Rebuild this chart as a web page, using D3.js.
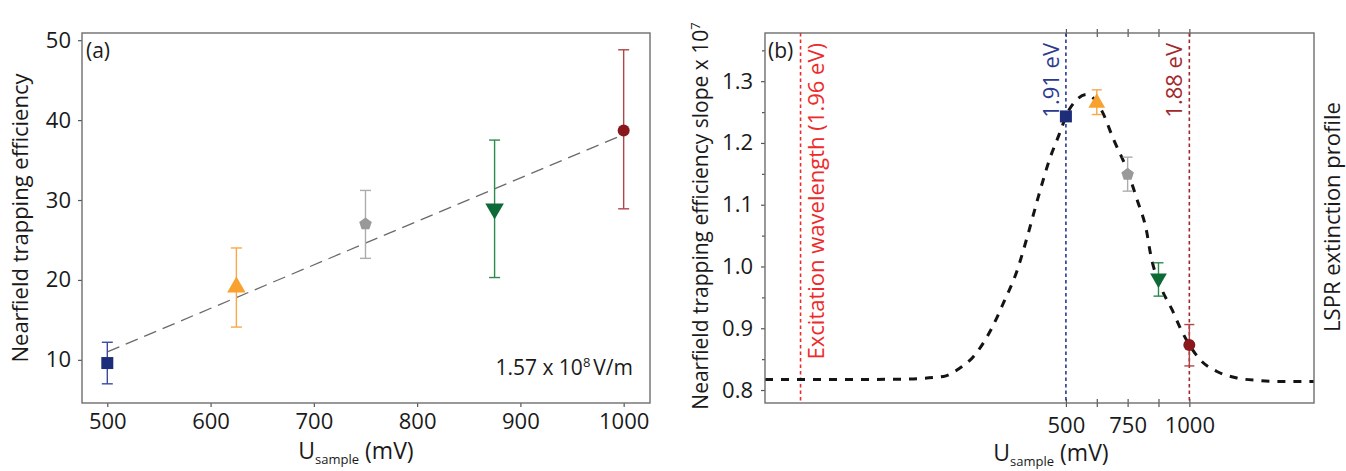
<!DOCTYPE html>
<html>
<head>
<meta charset="utf-8">
<script src="https://cdn.jsdelivr.net/npm/d3@7"></script>
<style>
  body { margin: 0; background: #fff; }
  svg text { font-family: "Open Sans", "Noto Sans", sans-serif; fill: #1a1a1a; }
</style>
</head>
<body>
<svg id="chart" width="1346" height="471"></svg>
<script>
// sample voltages shared by both panels
const voltages = [500, 625, 750, 875, 1000];

// panel (a): trapping efficiency with error bars
const efficiency = [9.6, 19.1, 27.0, 28.9, 38.7];
const effLow = [7.0, 14.1, 22.7, 20.3, 28.9];
const effHigh = [12.2, 24.0, 31.2, 37.5, 48.8];
const fitX = [500, 1000];
const fitY = [11.0, 38.2];
const ticksA_x = [500, 600, 700, 800, 900, 1000];
const ticksA_y = [10, 20, 30, 40, 50];

// panel (b): slope values with error bars
const slope = [1.243, 1.265, 1.149, 0.981, 0.873];
const slopeLow = [1.237, 1.246, 1.122, 0.952, 0.839];
const slopeHigh = [1.249, 1.286, 1.177, 1.006, 0.906];
const ticksB_y = [0.8, 0.9, 1.0, 1.1, 1.2, 1.3];
const minorB_y = [0.85, 0.95, 1.05, 1.15, 1.25, 1.35];
const ticksB_x = [500, 625, 750, 875, 1000];
const labelsB_x = ['500', '', '750', '', '1000'];

// LSPR extinction profile
const lsprX = [-719, -400, -172, 4, 65, 125, 200, 247, 301, 348, 389, 436, 470, 510, 538, 585,
  646, 693, 747, 788, 828, 842, 889, 930, 963, 1044, 1112, 1193, 1274, 1355, 1505];
const lsprY = [0.817, 0.817, 0.8175, 0.822, 0.834, 0.854, 0.9005, 0.941, 0.992, 1.0545, 1.114, 1.176, 1.211, 1.2515, 1.2677, 1.2786,
  1.2515, 1.2057, 1.157, 1.1086, 1.0545, 1.022, 0.9626, 0.930, 0.9005, 0.849, 0.830, 0.8195, 0.8156, 0.814, 0.814];

// vertical reference lines
const refLines = [
  { x: -575, label: 'Excitation wavelength (1.96 eV)', color: '#ee2a2a', side: 'right' },
  { x: 500, label: '1.91 eV', color: '#2b3a8f', side: 'left' },
  { x: 1000, label: '1.88 eV', color: '#a3282c', side: 'left' }
];

const markerFill = ['#1e2d7a', '#f8a12f', '#999999', '#0d6a36', '#8a171b'];
const barColor = ['#3a4aa0', '#f8a84a', '#acacac', '#2e8a4c', '#b0454a'];
const markerKind = ['square', 'triangle', 'pentagon', 'down', 'circle'];

const svg = d3.select('#chart');

function marker(g, kind, cx, cy, size, fill) {
  if (kind === 'pentagon') {
    const r = size * 0.55;
    const pts = d3.range(5).map(k => {
      const a = -Math.PI / 2 + k * 2 * Math.PI / 5;
      return [cx + r * Math.cos(a), cy + r * Math.sin(a)];
    });
    g.append('path').attr('d', d3.line().curve(d3.curveLinearClosed)(pts)).attr('fill', fill);
    return;
  }
  const types = { square: d3.symbolSquare, triangle: d3.symbolTriangle, down: d3.symbolTriangle, circle: d3.symbolCircle };
  const area = kind === 'square' ? size * size : kind === 'circle' ? Math.PI * (size / 2) * (size / 2) : size * size * 0.62;
  g.append('path')
    .attr('d', d3.symbol().type(types[kind]).size(area)())
    .attr('transform', `translate(${cx},${cy})` + (kind === 'down' ? ' rotate(180)' : ''))
    .attr('fill', fill);
}

function errorBar(g, x, y0, y1, cap, color) {
  g.append('line').attr('x1', x).attr('x2', x).attr('y1', y0).attr('y2', y1).attr('stroke', color).attr('stroke-width', 1.4);
  [y0, y1].forEach(y => g.append('line').attr('x1', x - cap).attr('x2', x + cap).attr('y1', y).attr('y2', y)
    .attr('stroke', color).attr('stroke-width', 1.4));
}

function frame(x0, x1, y0, y1) {
  svg.append('rect').attr('x', x0).attr('y', y0).attr('width', x1 - x0).attr('height', y1 - y0)
    .attr('fill', 'none').attr('stroke', '#6e6e6e').attr('stroke-width', 1.4);
}

function styleAxis(g) {
  g.select('.domain').remove();
  g.selectAll('line').attr('stroke', '#555').attr('stroke-width', 1.2);
  g.selectAll('text').style('font-size', '22px').style('font-family', '"Open Sans", sans-serif').attr('fill', '#1a1a1a');
}

function xTitle(cx, y) {
  const t = svg.append('text').attr('x', cx).attr('y', y).attr('text-anchor', 'middle').style('font-size', '23px');
  t.append('tspan').text('U');
  t.append('tspan').text('sample').style('font-size', '13px').attr('dy', 5);
  t.append('tspan').text(' (mV)').attr('dy', -5);
}

function yTitle(x, cy, label) {
  svg.append('text').attr('transform', `translate(${x},${cy}) rotate(-90)`).attr('text-anchor', 'middle')
    .style('font-size', '22px').text(label);
}

// ---------- panel (a) ----------
const xA = d3.scaleLinear().domain([475.5, 1025.5]).range([82, 650]);
const yA = d3.scaleLinear().domain([4.6, 50.9]).range([403, 33]);
const gA = svg.append('g');

gA.append('g').attr('transform', 'translate(0,403)')
  .call(d3.axisBottom(xA).tickValues(ticksA_x).tickFormat(d3.format('d')).tickSize(4).tickPadding(6)).call(styleAxis);
gA.append('g').attr('transform', 'translate(82,0)')
  .call(d3.axisLeft(yA).tickValues(ticksA_y).tickSize(4).tickPadding(7)).call(styleAxis);
frame(82, 650, 33, 403);

gA.append('path')
  .attr('d', d3.line().x(d => xA(d[0])).y(d => yA(d[1]))(d3.zip(fitX, fitY)))
  .attr('fill', 'none').attr('stroke', '#6a6a6a').attr('stroke-width', 1.3).attr('stroke-dasharray', '13,7');

voltages.forEach((v, i) => {
  errorBar(gA, xA(v), yA(effHigh[i]), yA(effLow[i]), 5.5, barColor[i]);
  marker(gA, markerKind[i], xA(v), yA(efficiency[i]), i === 1 || i === 3 ? 15.5 : 12, markerFill[i]);
});

svg.append('text').attr('x', 86).attr('y', 58).style('font-size', '21px').text('(a)');
const ann = svg.append('text').attr('x', 633).attr('y', 375).attr('text-anchor', 'end').style('font-size', '21px');
ann.append('tspan').text('1.57 x 10');
ann.append('tspan').text('8').style('font-size', '13px').attr('dy', -8);
ann.append('tspan').text('V/m').attr('dy', 8).attr('dx', 3);

yTitle(28, 218, 'Nearfield trapping efficiency');
xTitle(356, 459);

// ---------- panel (b) ----------
const xB = d3.scaleLinear().domain([-719, 1505]).range([765, 1314]);
const yB = d3.scaleLinear().domain([0.779, 1.378]).range([403, 33]);
const gB = svg.append('g');

gB.append('g').attr('transform', 'translate(0,403)')
  .call(d3.axisBottom(xB).tickValues(ticksB_x).tickFormat((d, i) => labelsB_x[i]).tickSizeInner(4).tickSizeOuter(0).tickPadding(10))
  .call(styleAxis)
  .selectAll('.tick line').attr('y1', -4).attr('y2', 4);
gB.append('g').attr('transform', 'translate(0,33)')
  .call(d3.axisTop(xB).tickValues(ticksB_x).tickFormat('').tickSize(4))
  .call(styleAxis)
  .selectAll('.tick line').attr('y1', -4).attr('y2', 4);
gB.append('g').attr('transform', 'translate(765,0)')
  .call(d3.axisLeft(yB).tickValues(ticksB_y).tickFormat(d3.format('.1f')).tickSize(4).tickPadding(8)).call(styleAxis);
gB.append('g').attr('transform', 'translate(765,0)')
  .call(d3.axisLeft(yB).tickValues(minorB_y.filter(v => v < 1.378)).tickFormat('').tickSize(3)).call(styleAxis);
frame(765, 1314, 33, 403);

refLines.forEach(r => {
  const x = xB(r.x);
  gB.append('line').attr('x1', x).attr('x2', x).attr('y1', 33).attr('y2', 403)
    .attr('stroke', r.color).attr('stroke-width', 1.6).attr('stroke-dasharray', '3.5,3');
  const tx = r.side === 'right' ? x + 23 : x - 7;
  gB.append('text').attr('transform', `translate(${tx},43) rotate(-90)`).attr('text-anchor', 'end')
    .style('font-size', '22px').style('fill', r.color).text(r.label);
});

gB.append('path')
  .attr('d', d3.line().curve(d3.curveMonotoneX).x(d => xB(d[0])).y(d => yB(d[1]))(d3.zip(lsprX, lsprY)))
  .attr('fill', 'none').attr('stroke', '#141414').attr('stroke-width', 3).attr('stroke-dasharray', '8,8');

voltages.forEach((v, i) => {
  errorBar(gB, xB(v), yB(slopeHigh[i]), yB(slopeLow[i]), 5, barColor[i]);
  marker(gB, markerKind[i], xB(v), yB(slope[i]), i === 1 || i === 3 ? 14 : 12, markerFill[i]);
});

svg.append('text').attr('x', 768).attr('y', 58).style('font-size', '21px').text('(b)');

const yt = svg.append('text').attr('transform', 'translate(708,216) rotate(-90)').attr('text-anchor', 'middle').style('font-size', '21px');
yt.append('tspan').text('Nearfield trapping efficiency slope x 10');
yt.append('tspan').text('7').style('font-size', '13px').attr('dy', -8);

yTitle(1340, 217, 'LSPR extinction profile');
xTitle(1051, 461);
</script>
</body>
</html>
